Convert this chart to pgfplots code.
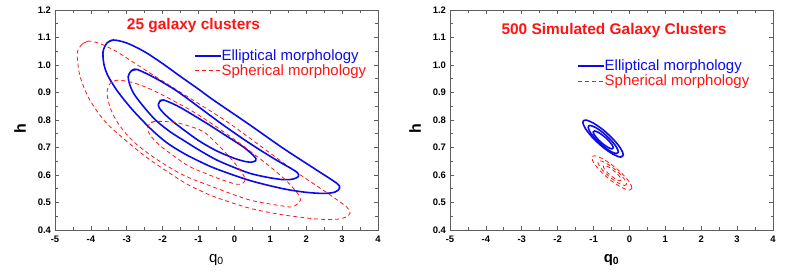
\documentclass[border=0pt]{standalone}
\usepackage{pgfplots}
\pgfplotsset{compat=1.18}
\usepackage{fontspec}
\setmainfont{Liberation Sans}
\definecolor{cblue}{RGB}{10,10,235}
\definecolor{cred}{RGB}{255,20,20}
\definecolor{axgray}{RGB}{95,95,95}
\pgfplotsset{
  panel/.style={
    scale only axis, width=323bp, height=220bp,
    xmin=-5, xmax=4, ymin=0.4, ymax=1.2,
    xtick={-5,-4,-3,-2,-1,0,1,2,3,4},
    ytick={0.4,0.5,0.6,0.7,0.8,0.9,1.0,1.1,1.2},
    minor x tick num=1, minor y tick num=1,
    tick align=inside, major tick length=4bp, minor tick length=2.5bp,
    axis line style={axgray, line width=0.9bp},
    every tick/.style={axgray, line width=0.7bp},
    /pgf/number format/assume math mode=true,
    yticklabel style={/pgf/number format/.cd, fixed, fixed zerofill, precision=1, /tikz/.cd, font=\bfseries\fontsize{9.5}{11}\selectfont, xshift=-0.5bp},
    xticklabel style={font=\bfseries\fontsize{9.5}{11}\selectfont, yshift=-2bp},
    ylabel={h},
    ylabel style={font=\bfseries\fontsize{16}{18}\selectfont, at={(rel axis cs:-0.108,0.46)}, anchor=center, rotate=0},
    xlabel style={at={(rel axis cs:0.5,-0.135)}, anchor=center},
    legend cell align=left,
    blueline/.style={cblue, line width=1.6bp, smooth, tension=0.5},
    redline/.style={cred, line width=0.8bp, dash pattern=on 4bp off 3bp, smooth, tension=0.5},
  }
}
\begin{document}
\begin{tikzpicture}
\path[use as bounding box] (0,0) rectangle (789bp,278bp);
% ---------------- left panel ----------------
\begin{axis}[panel, at={(55bp,48bp)}, anchor=south west,
  xlabel={q\textsubscript{0}},
  xlabel style={font=\fontsize{15}{17}\selectfont},
  legend style={draw=none, fill=none, at={(0.43,0.827)}, anchor=north west, inner sep=0pt,
    font=\fontsize{15}{17}\selectfont, nodes={inner xsep=0pt, inner ysep=1.3bp},
    /tikz/every even column/.append style={column sep=3bp}},
  legend image code/.code={\draw[#1] (0bp,0bp) -- (26bp,0bp);},
]
\addplot[blueline] coordinates {
(-3.38,1.091) (-3.55,1.080) (-3.66,1.050) (-3.64,1.005) (-3.53,0.962) (-3.26,0.905) (-2.86,0.840) (-2.35,0.770) (-1.9,0.719) (-1.43,0.680) (-0.95,0.648) (-0.50,0.622) (0.43,0.580) (1.36,0.550) (2.0,0.537) (2.5,0.533) (2.8,0.538) (2.93,0.552) (2.85,0.570) (2.29,0.618) (1.36,0.697) (0.43,0.782) (-0.59,0.873) (-1.0,0.912) (-1.5,0.958) (-2.0,1.005) (-2.5,1.048) (-3.0,1.080) (-3.38,1.091) (-3.55,1.080)};
\addlegendentry[text=cblue]{Elliptical morphology}
\addplot[redline] coordinates {
(-4.07,1.087) (-4.25,1.075) (-4.38,1.042) (-4.30,0.958) (-4.03,0.873) (-3.56,0.788) (-2.82,0.703) (-2.35,0.655) (-1.43,0.575) (-0.95,0.543) (-0.50,0.518) (0.43,0.479) (1.36,0.455) (2.29,0.440) (2.85,0.439) (3.12,0.448) (3.22,0.461) (3.18,0.475) (3.05,0.492) (2.47,0.545) (1.64,0.618) (0.7,0.708) (-0.22,0.795) (-1.15,0.872) (-2.08,0.948) (-2.7,1.0) (-3.3,1.05) (-3.75,1.078) (-4.07,1.087) (-4.25,1.075)};
\addlegendentry[text=cred]{Spherical morphology}
\addplot[blueline, forget plot] coordinates {
(-2.72,0.984) (-2.88,0.978) (-2.96,0.958) (-2.92,0.930) (-2.80,0.895) (-2.54,0.850) (-2.2,0.80) (-1.8,0.758) (-1.43,0.727) (-0.95,0.688) (-0.50,0.655) (0.0,0.627) (0.43,0.606) (0.9,0.592) (1.36,0.583) (1.62,0.585) (1.78,0.594) (1.76,0.608) (1.6,0.622) (1.2,0.652) (0.7,0.692) (0.2,0.735) (-0.4,0.79) (-1.0,0.848) (-1.6,0.905) (-2.2,0.952) (-2.72,0.984) (-2.88,0.978)};
\addplot[blueline, forget plot] coordinates {
(-1.98,0.873) (-2.08,0.868) (-2.12,0.857) (-2.09,0.843) (-1.95,0.822) (-1.70,0.793) (-1.35,0.758) (-0.96,0.722) (-0.5,0.688) (-0.03,0.662) (0.3,0.649) (0.48,0.647) (0.59,0.652) (0.60,0.659) (0.52,0.672) (0.25,0.702) (-0.2,0.740) (-0.7,0.782) (-1.2,0.822) (-1.6,0.852) (-1.98,0.873) (-2.08,0.868)};
\addplot[redline, forget plot] coordinates {
(-3.24,0.945) (-3.45,0.935) (-3.55,0.90) (-3.45,0.84) (-3.2,0.78) (-2.8,0.72) (-2.2,0.66) (-1.43,0.60) (-0.50,0.552) (0.43,0.509) (1.36,0.487) (1.64,0.485) (1.84,0.509) (1.75,0.535) (1.4,0.585) (0.9,0.64) (0.2,0.71) (-0.5,0.775) (-1.15,0.83) (-1.7,0.87) (-2.3,0.91) (-2.8,0.935) (-3.24,0.945) (-3.45,0.935)};
\addplot[redline, forget plot] coordinates {
(-2.2,0.795) (-2.35,0.788) (-2.42,0.77) (-2.35,0.745) (-2.1,0.71) (-1.7,0.67) (-1.24,0.63) (-0.5,0.59) (0.0,0.568) (0.2,0.568) (0.3,0.582) (0.2,0.61) (-0.1,0.66) (-0.5,0.715) (-0.9,0.76) (-1.6,0.79) (-2.2,0.795) (-2.35,0.788)};
\node[font=\bfseries\fontsize{15.5}{17}\selectfont, text=cred] at (axis cs:-1.14,1.145) {25 galaxy clusters};
\end{axis}
% ---------------- right panel ----------------
\begin{axis}[panel, at={(450bp,48bp)}, anchor=south west,
  xlabel={q\textsubscript{0}},
  xlabel style={font=\bfseries\fontsize{15}{17}\selectfont},
  legend style={draw=none, fill=none, at={(0.393,0.779)}, anchor=north west, inner sep=0pt,
    font=\fontsize{15}{17}\selectfont, nodes={inner xsep=0pt, inner ysep=1.3bp},
    /tikz/every even column/.append style={column sep=3bp}},
  legend image code/.code={\draw[#1] (0bp,0bp) -- (26bp,0bp);},
]
\addplot[blueline] coordinates {
(-0.17,0.673) (-0.246,0.6651) (-0.4525,0.6752) (-0.735,0.7007) (-1.0175,0.7348) (-1.224,0.7681) (-1.30,0.792) (-1.224,0.7999) (-1.0175,0.7898) (-0.735,0.7643) (-0.4525,0.7302) (-0.246,0.6969) (-0.17,0.673) (-0.246,0.6651)};
\addlegendentry[text=cblue]{Elliptical morphology}
\addplot[redline] coordinates {
(0.07,0.5525) (-0.005,0.545) (-0.21,0.5543) (-0.49,0.5778) (-0.77,0.6093) (-0.975,0.6402) (-1.05,0.6625) (-0.975,0.67) (-0.77,0.6607) (-0.49,0.6372) (-0.21,0.6057) (-0.005,0.5748) (0.07,0.5525) (-0.005,0.545)};
\addlegendentry[text=cred]{Spherical morphology}
\addplot[blueline, forget plot] coordinates {
(-0.31,0.6841) (-0.366,0.678) (-0.52,0.6855) (-0.73,0.7048) (-0.94,0.7305) (-1.094,0.7558) (-1.15,0.7739) (-1.094,0.78) (-0.94,0.7725) (-0.73,0.7532) (-0.52,0.7275) (-0.366,0.7022) (-0.31,0.6841) (-0.366,0.678)};
\addplot[blueline, forget plot] coordinates {
(-0.45,0.6989) (-0.4875,0.695) (-0.59,0.6999) (-0.73,0.7121) (-0.87,0.7285) (-0.9725,0.7446) (-1.01,0.7561) (-0.9725,0.76) (-0.87,0.7551) (-0.73,0.7429) (-0.59,0.7265) (-0.4875,0.7104) (-0.45,0.6989) (-0.4875,0.695)};
\addplot[redline, forget plot] coordinates {
(-0.08,0.5674) (-0.1336,0.562) (-0.28,0.5687) (-0.48,0.5856) (-0.68,0.6083) (-0.8264,0.6306) (-0.88,0.6466) (-0.8264,0.652) (-0.68,0.6453) (-0.48,0.6284) (-0.28,0.6057) (-0.1336,0.5834) (-0.08,0.5674) (-0.1336,0.562)};
\addplot[redline, forget plot] coordinates {
(-0.23,0.5824) (-0.2635,0.579) (-0.355,0.5832) (-0.48,0.5937) (-0.605,0.6078) (-0.6965,0.6216) (-0.73,0.6316) (-0.6965,0.635) (-0.605,0.6308) (-0.48,0.6203) (-0.355,0.6062) (-0.2635,0.5924) (-0.23,0.5824) (-0.2635,0.579)};
\node[font=\bfseries\fontsize{15.5}{17}\selectfont, text=cred] at (axis cs:-0.43,1.124) {500 Simulated Galaxy Clusters};
\end{axis}
\end{tikzpicture}
\end{document}
